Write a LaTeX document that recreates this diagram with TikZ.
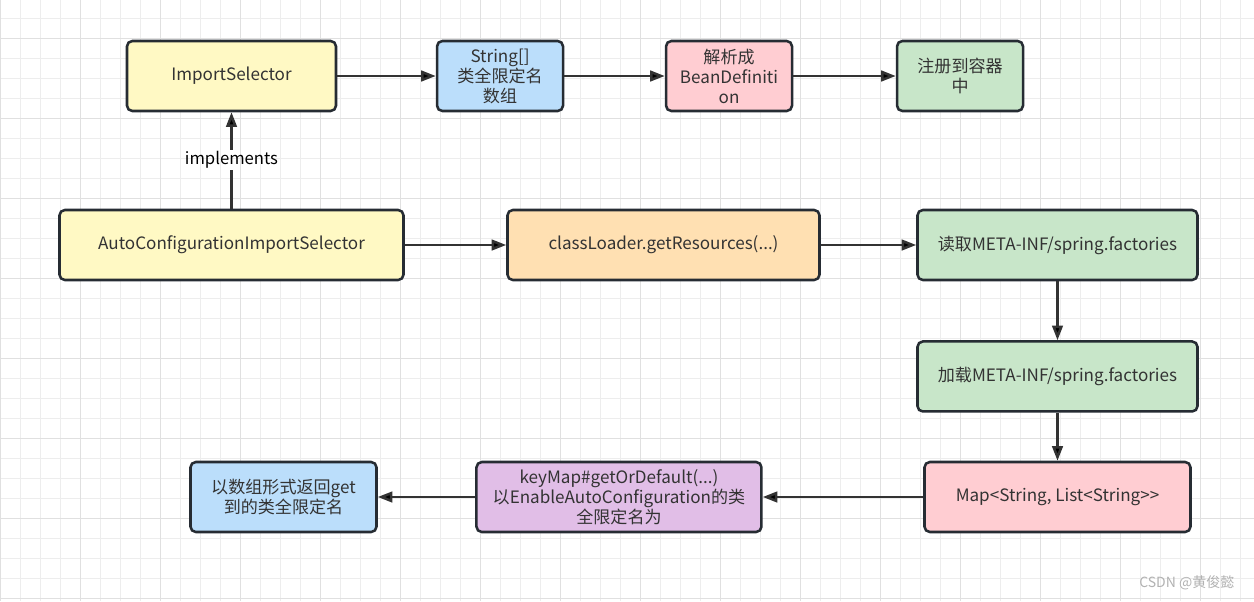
\documentclass[tikz,border=0pt]{standalone}
\usepackage{fontspec}
\setmainfont{Noto Sans CJK SC}
\usetikzlibrary{arrows.meta, positioning}
\definecolor{boxline}{HTML}{262C33}
\definecolor{txt}{HTML}{333333}
\definecolor{lnk}{HTML}{333333}
\definecolor{yellowbox}{HTML}{FFF9C4}
\definecolor{bluebox}{HTML}{BBDEFB}
\definecolor{pinkbox}{HTML}{FFCDD2}
\definecolor{greenbox}{HTML}{C8E6C9}
\definecolor{orangebox}{HTML}{FFE0B2}
\definecolor{purplebox}{HTML}{E1BEE7}
\definecolor{gridminor}{HTML}{EDEDED}
\definecolor{gridmajor}{HTML}{E0E0E0}
\tikzset{x = 0.75pt, y = -0.75pt,
         node distance = 100pt, on grid,
         >= {Triangle[length = 11pt, width = 8pt]},
         block/.style = {draw = boxline, line width = 1.9pt,
                         rounded corners = 4pt,
                         minimum height = 52.5pt, inner sep = 2pt,
                         align = center, text = txt,
                         font = \fontsize{12.8}{15}\selectfont},
         link/.style = {->, draw = lnk, line width = 1.9pt},
         minorline/.style = {draw = gridminor, line width = 0.6pt},
         majorline/.style = {draw = gridmajor, line width = 0.75pt}}

\begin{document}
\begin{tikzpicture}
        % background and grid
        \useasboundingbox (0,0) rectangle (1254,601);
        \fill[white] (0,0) rectangle (1254,601);
        \foreach \x in {0.7,20.7,...,1254} \draw[minorline] (\x,0) -- (\x,601);
        \foreach \y in {18.3,38.3,...,601} \draw[minorline] (0,\y) -- (1254,\y);
        \foreach \x in {0.7,80.7,...,1254} \draw[majorline] (\x,0) -- (\x,601);
        \foreach \y in {38.3,118.3,...,601} \draw[majorline] (0,\y) -- (1254,\y);

        % top row
        \node[block, fill = yellowbox, minimum width = 156.75pt] (imp) at (231.5,76) {ImportSelector};
        \node[block, fill = bluebox,   minimum width = 94.5pt]   (arr) [right = 201.4pt of imp] {String[]\\类全限定名\\数组};
        \node[block, fill = pinkbox,   minimum width = 94.5pt]   (bdef) [right = 171.75pt of arr] {解析成\\BeanDefiniti\\on};
        \node[block, fill = greenbox,  minimum width = 94.5pt]   (reg) [right = 173.25pt of bdef] {注册到容器\\中};

        % middle row
        \node[block, fill = yellowbox, minimum width = 258pt]    (auto) [below = 126.75pt of imp] {AutoConfigurationImportSelector};
        \node[block, fill = orangebox, minimum width = 234pt]    (cl) [right = 324pt of auto] {classLoader.getResources(...)};
        \node[block, fill = greenbox,  minimum width = 210pt]    (rd) [right = 295.5pt of cl] {读取META-INF/spring.factories};
        \node[block, fill = greenbox,  minimum width = 210pt]    (ld) [below = 98.6pt of rd] {加载META-INF/spring.factories};

        % bottom row
        \node[block, fill = pinkbox,   minimum width = 199.5pt]  (map) [below = 90.4pt of ld] {Map<String, List<String{>}{>}};
        \node[block, fill = purplebox, minimum width = 213.75pt] (km) [left = 328.9pt of map] {keyMap\#getOrDefault(...)\\以EnableAutoConfiguration的类\\全限定名为};
        \node[block, fill = bluebox,   minimum width = 139.5pt]  (ret) [left = 251.6pt of km] {以数组形式返回get\\到的类全限定名};

        \node[inner sep = 1pt, font = \fontsize{12.5}{14}\selectfont] (impl) [above = 63.75pt of auto] {implements};

        \path[link]             (imp) edge (arr);
        \path[link]             (arr) edge (bdef);
        \path[link]             (bdef) edge (reg);
        \draw[lnk, line width = 1.9pt] (auto) -- (impl);
        \path[link]             (impl) edge (imp);
        \path[link]             (auto) edge (cl);
        \path[link]             (cl) edge (rd);
        \path[link]             (rd) edge (ld);
        \path[link]             (ld) edge (map);
        \path[link]             (map) edge (km);
        \path[link]             (km) edge (ret);

        \node[text = black!30, font = \fontsize{10.5}{12}\selectfont, anchor = east] (mark) at (1239,583) {CSDN @黄俊懿};
    \end{tikzpicture}
\end{document}
